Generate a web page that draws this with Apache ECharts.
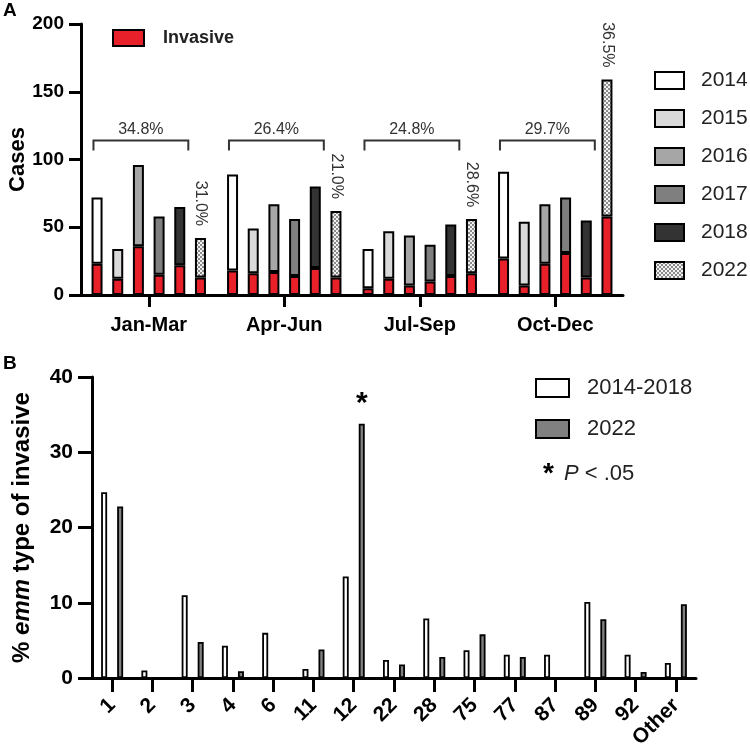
<!DOCTYPE html>
<html>
<head>
<meta charset="utf-8">
<script src="https://cdn.jsdelivr.net/npm/echarts@6/dist/echarts.min.js"></script>
<style>html,body{margin:0;padding:0;background:#fff}#c{width:750px;height:753px}</style>
</head>
<body>
<div id="c"></div>
<script>
// ---------- Panel A data ----------
const quarters = ['Jan-Mar', 'Apr-Jun', 'Jul-Sep', 'Oct-Dec'];
const years = ['2014', '2015', '2016', '2017', '2018', '2022'];
const total2014 = [72, 89, 34, 91];
const total2015 = [34, 49, 47, 54];
const total2016 = [96, 67, 44, 67];
const total2017 = [58, 56, 37, 72];
const total2018 = [65, 80, 52, 55];
const total2022 = [42, 62, 56, 159];
const inv2014 = [23, 18, 5, 27];
const inv2015 = [12, 16, 12, 7];
const inv2016 = [36, 17, 7, 23];
const inv2017 = [15, 14, 10, 31];
const inv2018 = [22, 20, 14, 13];
const inv2022 = [13, 13, 16, 58];
const groupPct = ['34.8%', '26.4%', '24.8%', '29.7%'];
const pct2022 = ['31.0%', '21.0%', '28.6%', '36.5%'];
const yTicksA = [0, 50, 100, 150, 200];

// ---------- Panel B data ----------
const emmTypes = ['1', '2', '3', '4', '6', '11', '12', '22', '28', '75', '77', '87', '89', '92', 'Other'];
const periodsB = ['2014-2018', '2022'];
const pct2014_2018 = [24.7, 1.0, 11.0, 4.3, 6.0, 1.2, 13.5, 2.4, 7.9, 3.7, 3.1, 3.1, 10.1, 3.1, 2.0];
const pctB2022 = [22.8, 0, 4.8, 0.9, 0, 3.8, 33.8, 1.8, 2.8, 5.8, 2.8, 0, 7.8, 0.8, 9.8];
const significant = ['12'];

// ---------- styles ----------
const FONT = '"Liberation Sans", Arial, Helvetica, sans-serif';
const pc = document.createElement('canvas');
pc.width = 4; pc.height = 4;
const pctx = pc.getContext('2d');
pctx.fillStyle = '#f2f2f2'; pctx.fillRect(0, 0, 4, 4);
pctx.fillStyle = '#8c8c8c'; pctx.fillRect(0, 0, 2, 2); pctx.fillRect(2, 2, 2, 2);
const checker = { image: pc, repeat: 'repeat' };
const yearColors = ['#ffffff', '#d9d9d9', '#a6a6a6', '#7f7f7f', '#333333', checker];
const totals = [total2014, total2015, total2016, total2017, total2018, total2022];
const invs = [inv2014, inv2015, inv2016, inv2017, inv2018, inv2022];
const B_PREFIX = 'B:';

const series = [];
years.forEach((y, i) => {
  series.push({
    name: 'Invasive', type: 'bar', xAxisIndex: 0, yAxisIndex: 0, stack: 's' + y,
    barWidth: 11, barGap: '88%',
    itemStyle: { color: '#e8202a', borderColor: '#000', borderWidth: 2 },
    data: invs[i]
  });
  const top = {
    name: y, type: 'bar', xAxisIndex: 0, yAxisIndex: 0, stack: 's' + y,
    barWidth: 11, barGap: '88%',
    itemStyle: { color: yearColors[i], borderColor: '#000', borderWidth: 2 },
    data: totals[i].map((t, k) => t - invs[i][k])
  };
  if (y === '2022') {
    top.label = {
      show: true, position: 'top', distance: 12, rotate: -90, align: 'right', verticalAlign: 'middle',
      fontSize: 16, color: '#333', fontFamily: FONT,
      formatter: p => pct2022[p.dataIndex]
    };
  }
  series.push(top);
});

// brackets over 2014-2018 bars
series.push({
  type: 'custom', xAxisIndex: 0, yAxisIndex: 0, silent: true, clip: false,
  data: groupPct.map((p, i) => [i, 114]),
  renderItem: (params, api) => {
    const c = api.coord([api.value(0), api.value(1)]);
    const bw = api.size([1, 0])[0];
    const l = c[0] - 0.408 * bw, r = c[0] + 0.292 * bw, t = c[1];
    return {
      type: 'group',
      children: [
        { type: 'polyline', shape: { points: [[l, t + 10], [l, t], [r, t], [r, t + 10]] },
          style: { stroke: '#333', lineWidth: 2, fill: null } },
        { type: 'text', x: (l + r) / 2, y: t - 3,
          style: { text: groupPct[params.dataIndex], textAlign: 'center', textVerticalAlign: 'bottom',
                   fontSize: 16, fill: '#333', fontFamily: FONT } }
      ]
    };
  }
});

series.push({
  name: B_PREFIX + periodsB[0], type: 'bar', xAxisIndex: 1, yAxisIndex: 1,
  barWidth: 6, barGap: '167%',
  itemStyle: { color: '#ffffff', borderColor: '#000', borderWidth: 1.8 },
  data: pct2014_2018
});
series.push({
  name: B_PREFIX + periodsB[1], type: 'bar', xAxisIndex: 1, yAxisIndex: 1,
  barWidth: 6, barGap: '167%',
  itemStyle: { color: '#808080', borderColor: '#000', borderWidth: 1.8 },
  data: pctB2022.map((v, i) => significant.includes(emmTypes[i])
    ? { value: v, label: { show: true, position: 'top', distance: 5, formatter: '*', fontSize: 30, fontWeight: 'bold', color: '#000', fontFamily: FONT } }
    : v)
});

const axisLine = { show: true, lineStyle: { color: '#000', width: 3 } };
const chart = echarts.init(document.getElementById('c'), null, { renderer: 'canvas' });
chart.setOption({
  animation: false,
  textStyle: { fontFamily: FONT },
  grid: [
    { left: 81, top: 24, width: 542, height: 271, containLabel: false, outerBoundsMode: 'none' },
    { left: 92, top: 377, width: 604, height: 301, containLabel: false, outerBoundsMode: 'none' }
  ],
  xAxis: [
    { type: 'category', gridIndex: 0, data: quarters, axisLine,
      axisTick: { show: true, alignWithLabel: true, length: 12, lineStyle: { color: '#000', width: 3 } },
      axisLabel: { fontSize: 20, fontWeight: 'bold', color: '#000', margin: 20, fontFamily: FONT } },
    { type: 'category', gridIndex: 1, data: emmTypes, axisLine,
      axisTick: { show: true, alignWithLabel: true, length: 14, lineStyle: { color: '#000', width: 3 } },
      axisLabel: { interval: 0, rotate: 45, fontSize: 21, fontWeight: 'bold', color: '#000', margin: 24, fontFamily: FONT } }
  ],
  yAxis: [
    { type: 'value', gridIndex: 0, min: yTicksA[0], max: yTicksA[yTicksA.length - 1], interval: 50, axisLine,
      axisTick: { show: true, length: 12, lineStyle: { color: '#000', width: 3 } },
      splitLine: { show: false },
      axisLabel: { fontSize: 19, fontWeight: 'bold', color: '#000', margin: 17, fontFamily: FONT },
      name: 'Cases', nameLocation: 'middle', nameGap: 52, nameMoveOverlap: false,
      nameTextStyle: { fontSize: 22, fontWeight: 'bold', color: '#000', fontFamily: FONT } },
    { type: 'value', gridIndex: 1, min: 0, max: 40, interval: 10, axisLine,
      axisTick: { show: true, length: 14, lineStyle: { color: '#000', width: 3 } },
      splitLine: { show: false },
      axisLabel: { fontSize: 21, fontWeight: 'bold', color: '#000', margin: 19, fontFamily: FONT },
      name: '% {i|emm} type of invasive', nameLocation: 'middle', nameGap: 58,
      nameTextStyle: { fontSize: 24, fontWeight: 'bold', color: '#000', fontFamily: FONT,
        rich: { i: { fontSize: 24, fontWeight: 'bold', fontStyle: 'italic', color: '#000', fontFamily: FONT } } } }
  ],
  legend: [
    { data: ['Invasive'], left: 112, top: 29, padding: 0, icon: 'rect', itemWidth: 31, itemHeight: 16,
      itemStyle: { borderColor: '#000', borderWidth: 2 },
      textStyle: { fontSize: 18, fontWeight: 'bold', color: '#222', padding: [0, 0, 0, 14], fontFamily: FONT } },
    { data: years, orient: 'vertical', left: 654, top: 70, padding: 0, icon: 'rect', itemWidth: 29, itemHeight: 17, itemGap: 17,
      itemStyle: { borderColor: '#000', borderWidth: 2 },
      textStyle: { fontSize: 21, color: '#222', padding: [0, 0, 0, 12], lineHeight: 17, fontFamily: FONT } },
    { data: periodsB.map(p => B_PREFIX + p), orient: 'vertical', left: 535, top: 377, padding: 0, icon: 'rect',
      itemWidth: 33, itemHeight: 18, itemGap: 19,
      formatter: n => n.slice(B_PREFIX.length),
      itemStyle: { borderColor: '#000', borderWidth: 2 },
      textStyle: { fontSize: 22, color: '#222', padding: [0, 0, 0, 13], lineHeight: 18, fontFamily: FONT } }
  ],
  graphic: [
    { type: 'text', left: 3, top: 1, style: { text: 'A', fontSize: 19, fontWeight: 'bold', fill: '#000', font: 'bold 19px ' + FONT } },
    { type: 'text', left: 3, top: 354, style: { text: 'B', fontSize: 19, fontWeight: 'bold', fill: '#000', font: 'bold 19px ' + FONT } },
    { type: 'text', left: 543, top: 460, style: {
        text: '{s|*} {p|P} < .05', fontSize: 22, fill: '#222', fontFamily: FONT,
        rich: { s: { fontSize: 28, fontWeight: 'bold', fill: '#000', fontFamily: FONT, verticalAlign: 'top', padding: [0, 4, 0, 0] },
                p: { fontSize: 22, fontStyle: 'italic', fill: '#222', fontFamily: FONT } } } }
  ],
  series
});
</script>
</body>
</html>
